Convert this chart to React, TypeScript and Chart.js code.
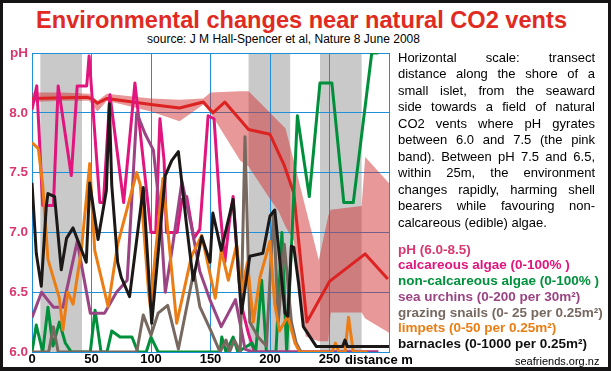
import React, { useEffect, useRef } from 'react';
import { Chart, registerables } from 'chart.js';

Chart.register(...registerables);

// ---------- data ----------
const xTickValues = [0, 50, 100, 150, 200, 250, 300];
const grayBandStarts = [7, 182, 242];
const grayBandEnds = [42, 217, 277];

// pink band: pH range (min / max) along the transect
const bandX = [0, 25, 48, 55, 63, 100, 124, 144, 150, 175, 182, 200, 207, 213, 220, 230, 241, 249, 251, 277, 280, 300];
const bandUpper = [8.17, 8.17, 8.16, 8.1, 8.16, 8.12, 8.11, 8.12, 8.17, 8.18, 8.18, 8.0, 7.93, 7.87, 7.6, 7.2, 6.77, 7.14, 7.19, 7.22, 7.63, 7.41];
const bandLower = [8.09, 8.1, 8.1, 8.01, 8.1, 8.01, 7.93, 8.07, 8.0, 7.6, 7.55, 7.28, 7.18, 7.05, 6.93, 6.13, 6.09, 6.09, 6.33, 6.33, 6.28, 6.16];

// mean pH
const phX = [0, 46, 50, 55, 63, 100, 124, 144, 152, 162, 182, 200, 212, 220, 231, 250, 280, 299];
const phY = [8.12, 8.13, 8.12, 8.08, 8.12, 8.07, 8.04, 8.09, 8.0, 8.09, 7.86, 7.82, 7.56, 7.33, 6.25, 6.59, 6.82, 6.61];

// calcareous algae (% cover)
const calcX = [0, 4, 9, 18, 22, 33, 38, 46, 48, 57, 60, 65.5, 77, 86.5, 100, 104, 107.5, 111, 113, 122, 126, 130, 136, 141, 148, 153, 158, 162, 166, 169, 174, 177, 182, 187, 291];
const calcY = [81, 89, 49, 49, 89, 59, 89, 89, 99, 50, 50, 86, 50, 90, 40, 40, 78, 64, 40, 40, 51, 52, 38, 41, 79, 78, 48, 30, 44, 52, 24, 14, 6, 0, 0];

// non-calcareous algae (% cover)
const nonCalcX = [0, 3.6, 9, 13.4, 17.6, 23, 28, 33, 49, 53, 58, 63, 67, 74, 84, 89, 96, 100, 106, 158, 159.5, 163, 169, 173, 185, 188, 193, 197, 205, 210, 214, 223, 233, 242, 252, 262, 270, 285.5, 291];
const nonCalcY = [0, 9, 0, 15, 2, 10, 3, 0, 0, 14, 0, 0, 7, 5, 5, 0, 0, 5, 0, 0, 5, 0, 5, 0, 3, 0, 24, 0, 0, 40, 0, 79, 52, 90, 90, 50, 50, 100, 100];

// sea urchins (per 30 m2)
const urchinX = [0, 8, 18, 26, 38, 49, 61, 71, 80, 88, 95, 102, 108, 112, 118, 126, 134, 141, 150, 159, 171, 179, 185, 291];
const urchinY = [23, 40, 30, 30, 74, 26, 26, 40, 48, 160, 146, 135, 90, 40, 70, 114, 84, 54, 34, 17, 35, 2, 0, 0];

// grazing snails (per 0.25 m2)
const snailX = [0, 14, 18, 22, 88, 93.5, 100, 106, 114, 123, 136, 141, 150, 158, 163, 166, 170, 175, 179, 183, 190, 197, 203, 207, 212, 218, 222, 226];
const snailY = [0, 0, 2.1, 0, 0, 3.1, 1.4, 3.25, 3.9, 0.25, 6.75, 3.8, 1.85, 0, 1, 0, 1, 0, 18, 2.5, 1.25, 0.5, 11.75, 2.5, 9, 2.5, 0.75, 0];

// limpets (per 0.25 m2)
const limpetX = [0, 5.3, 9, 13.4, 23, 26, 30, 34.5, 41.5, 48.5, 52.7, 64, 72, 80, 88, 91, 98, 99.5, 103, 110, 121.6, 134, 142.6, 154, 159, 165, 172, 176, 181, 186, 191.6, 200, 204, 208, 215, 221, 225, 252, 255, 258, 263, 266, 270, 282];
const limpetY = [35, 34, 28, 15.5, 9, 3.7, 10, 8, 17, 31.5, 17, 7.6, 18, 24, 30, 28, 10, 7.5, 15, 29, 4.8, 16, 19.5, 9, 17, 12, 18, 10, 15, 5, 12.5, 18.5, 8, 3.5, 6, 1.5, 0, 0, 1.5, 0, 0, 5.8, 0, 0];

// barnacles (per 0.25 m2)
const barnacleX = [0, 3.6, 7.8, 12, 13.4, 19, 24.6, 29, 34.5, 45.6, 48.5, 55.5, 62.5, 65, 67, 72, 75, 82, 93.5, 100.6, 112, 117.4, 123, 130, 135.5, 142.6, 149.6, 152, 159, 169, 176, 183, 194, 200, 204, 208.4, 212.6, 215, 218, 220, 224, 228, 239, 261, 263, 265, 300];
const barnacleY = [566, 330, 220, 487, 530, 520, 275, 380, 415, 300, 565, 376, 540, 830, 560, 300, 250, 185, 550, 96, 590, 640, 670, 420, 240, 386, 300, 465, 340, 510, 130, 320, 330, 455, 475, 300, 130, 120, 354, 350, 230, 85, 18, 18, 40, 18, 18];

const paragraphLines = [
  'Horizontal scale: transect',
  'distance along the shore of a',
  'small islet, from the seaward',
  'side towards a field of natural',
  'CO2 vents where pH gyrates',
  'between 6.0 and 7.5 (the pink',
  'band). Between pH 7.5 and 6.5,',
  'within 25m, the environment',
  'changes rapidly, harming shell',
  'bearers while favouring non-',
  'calcareous (edible) algae.',
];

const legendLabels = [
  'pH (6.0-8.5)',
  'calcareous algae (0-100% )',
  'non-calcareous algae (0-100% )',
  'sea urchins (0-200 per 30m²)',
  'grazing snails (0- 25 per 0.25m²)',
  'limpets (0-50 per 0.25m²)',
  'barnacles (0-1000 per 0.25m²)',
];

// ---------- styles ----------
const FONT = "'Liberation Sans', Arial, Helvetica, sans-serif";
const GRID = '#1e8fd8';
const PINK_TEXT = '#d8386f';
const C_PH = '#dd2222';
const C_CALC = '#e0157d';
const C_NONCALC = '#00903c';
const C_URCHIN = '#9b4484';
const C_SNAIL = '#776860';
const C_LIMPET = '#ec7d14';
const C_BARN = '#1c1818';
const legendColors = [PINK_TEXT, C_CALC, C_NONCALC, C_URCHIN, C_SNAIL, C_LIMPET, '#111111'];

const mk = (xs: number[], ys: number[]) => xs.map((x, i) => ({ x, y: ys[i] }));

const grayBandPlugin = {
  id: 'grayBands',
  beforeDraw(chart: any) {
    const { ctx, chartArea, scales } = chart;
    const x = scales.x;
    ctx.save();
    ctx.fillStyle = '#c9c9c9';
    grayBandStarts.forEach((s, i) => {
      const a = x.getPixelForValue(s);
      const b = x.getPixelForValue(grayBandEnds[i]);
      ctx.fillRect(a, chartArea.top, b - a, chartArea.bottom - chartArea.top);
    });
    ctx.restore();
  },
};

const line = (label: string, data: any[], color: string, yAxisID: string, order: number) => ({
  label,
  data,
  borderColor: color,
  backgroundColor: color,
  borderWidth: 3,
  pointRadius: 0,
  fill: false,
  tension: 0,
  borderJoinStyle: 'round' as const,
  yAxisID,
  order,
});

export default function App() {
  const ref = useRef<HTMLCanvasElement | null>(null);

  useEffect(() => {
    if (!ref.current) return;
    const chart = new Chart(ref.current, {
      type: 'line',
      data: {
        datasets: [
          {
            label: 'band max',
            data: mk(bandX, bandUpper),
            borderColor: 'rgba(0,0,0,0)',
            backgroundColor: 'rgba(0,0,0,0)',
            borderWidth: 0,
            pointRadius: 0,
            fill: false,
            yAxisID: 'y',
            order: 30,
          } as any,
          {
            label: 'band min',
            data: mk(bandX, bandLower),
            borderColor: 'rgba(0,0,0,0)',
            backgroundColor: 'rgba(209,49,49,0.5)',
            borderWidth: 0,
            pointRadius: 0,
            fill: '-1',
            yAxisID: 'y',
            order: 29,
          } as any,
          line('pH', mk(phX, phY), C_PH, 'y', 7),
          line('calcareous algae', mk(calcX, calcY), C_CALC, 'yPct', 6),
          line('non-calcareous algae', mk(nonCalcX, nonCalcY), C_NONCALC, 'yPct2', 5),
          line('sea urchins', mk(urchinX, urchinY), C_URCHIN, 'yUrchin', 4),
          line('grazing snails', mk(snailX, snailY), C_SNAIL, 'ySnail', 3),
          line('limpets', mk(limpetX, limpetY), C_LIMPET, 'yLimpet', 2),
          line('barnacles', mk(barnacleX, barnacleY), C_BARN, 'yBarn', 1),
        ],
      },
      options: {
        responsive: false,
        animation: false,
        events: [],
        layout: { padding: { left: 3, top: 53, right: 222, bottom: 0 } },
        plugins: { legend: { display: false }, tooltip: { enabled: false }, title: { display: false } },
        scales: {
          x: {
            type: 'linear',
            min: 0,
            max: 300,
            afterBuildTicks: (s: any) => {
              s.ticks = xTickValues.map((v) => ({ value: v }));
            },
            ticks: {
              callback: (v: any) => (v === 300 ? '' : String(v)),
              color: '#000',
              font: { family: FONT, size: 13, weight: 'bold' },
              padding: 0,
              maxRotation: 0,
              autoSkip: false,
            },
            grid: { color: GRID, lineWidth: 1, drawTicks: false },
            border: { color: GRID, width: 1 },
            afterFit: (s: any) => {
              s.height = 19;
            },
          },
          y: {
            type: 'linear',
            min: 6,
            max: 8.5,
            ticks: {
              stepSize: 0.5,
              callback: (v: any) => (Math.abs(v - 8.5) < 1e-6 ? 'pH' : Number(v).toFixed(1)),
              color: PINK_TEXT,
              font: { family: FONT, size: 13.5, weight: 'bold' },
              padding: 4,
            },
            grid: { color: GRID, lineWidth: 1, drawTicks: false },
            border: { color: GRID, width: 1 },
            afterFit: (s: any) => {
              s.width = 29;
            },
          },
          yPct: { type: 'linear', display: false, min: 0, max: 100 },
          yPct2: { type: 'linear', display: false, min: 0, max: 100 },
          yUrchin: { type: 'linear', display: false, min: 0, max: 200 },
          ySnail: { type: 'linear', display: false, min: 0, max: 25 },
          yLimpet: { type: 'linear', display: false, min: 0, max: 50 },
          yBarn: { type: 'linear', display: false, min: 0, max: 1000 },
        },
      } as any,
      plugins: [grayBandPlugin],
    });
    return () => chart.destroy();
  }, []);

  return (
    <div
      style={{
        position: 'fixed',
        left: 0,
        top: 0,
        width: 611,
        height: 371,
        background: '#161414',
        overflow: 'hidden',
        fontFamily: FONT,
      }}
    >
      <div style={{ position: 'absolute', left: 3, top: 3, width: 605, height: 364, background: '#ffffff' }} />
      <div
        style={{
          position: 'absolute',
          left: 0,
          width: 603,
          top: 9.4,
          textAlign: 'center',
          fontSize: 23.6,
          lineHeight: '23.6px',
          fontWeight: 'bold',
          color: '#e02a22',
          whiteSpace: 'nowrap',
        }}
      >
        Environmental changes near natural CO2 vents
      </div>
      <div
        style={{
          position: 'absolute',
          left: 0,
          width: 567,
          top: 33.3,
          textAlign: 'center',
          fontSize: 12,
          lineHeight: '12px',
          color: '#000',
          whiteSpace: 'nowrap',
        }}
      >
        source: J M Hall-Spencer et al, Nature 8 June 2008
      </div>
      <canvas ref={ref} width={611} height={371} style={{ position: 'absolute', left: 0, top: 0, width: 611, height: 371 }} />
      <div style={{ position: 'absolute', left: 398, top: 49.9, width: 197, fontSize: 13, lineHeight: '16.5px', color: '#000' }}>
        {paragraphLines.map((t, i) => (
          <div
            key={i}
            style={{
              textAlign: i === paragraphLines.length - 1 ? 'left' : 'justify',
              textAlignLast: i === paragraphLines.length - 1 ? 'left' : 'justify',
              whiteSpace: 'nowrap',
            } as any}
          >
            {t}
          </div>
        ))}
      </div>
      <div style={{ position: 'absolute', left: 398, top: 241.5, fontSize: 13.5, lineHeight: '15.75px', fontWeight: 'bold', whiteSpace: 'nowrap' }}>
        {legendLabels.map((t, i) => (
          <div key={i} style={{ color: legendColors[i] }}>
            {t}
          </div>
        ))}
      </div>
      <div style={{ position: 'absolute', left: 345, top: 353.3, fontSize: 13, lineHeight: '13px', fontWeight: 'bold', color: '#000', whiteSpace: 'nowrap' }}>
        distance m
      </div>
      <div style={{ position: 'absolute', left: 515, top: 355.7, fontSize: 11, lineHeight: '11px', color: '#000', whiteSpace: 'nowrap' }}>
        seafriends.org.nz
      </div>
    </div>
  );
}
